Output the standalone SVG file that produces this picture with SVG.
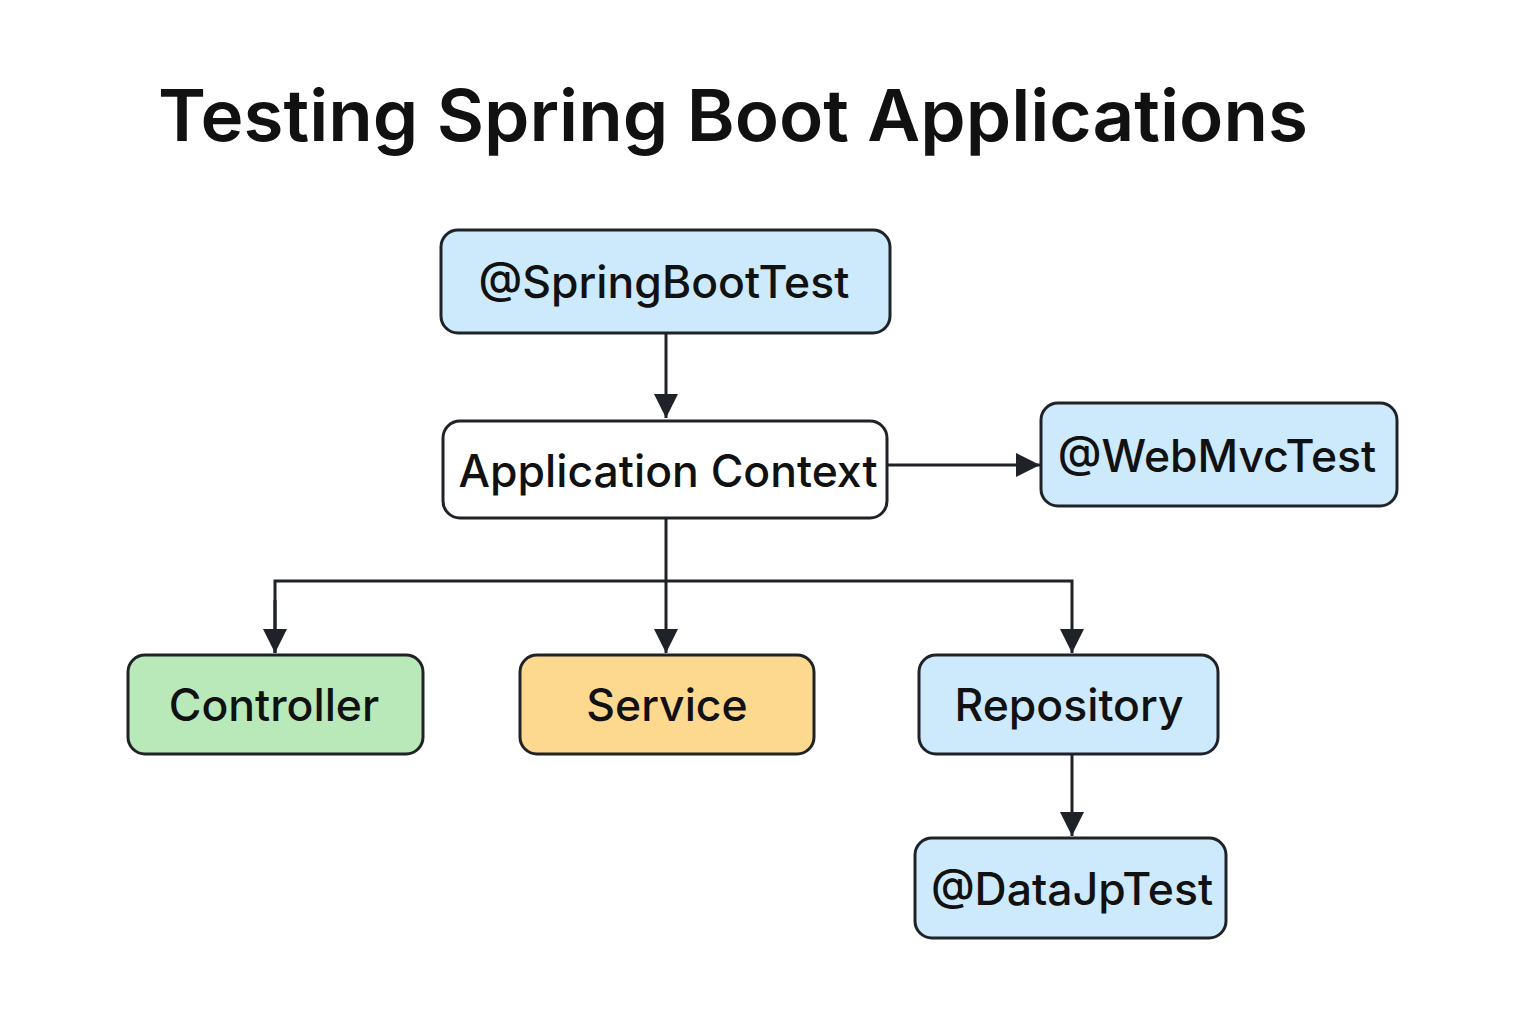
<svg xmlns="http://www.w3.org/2000/svg" width="1536" height="1024" viewBox="0 0 1536 1024">
  <defs>
    <marker id="arrow" viewBox="0 0 24 24" refX="24" refY="12" markerWidth="24" markerHeight="24" markerUnits="userSpaceOnUse" orient="auto">
      <path d="M0,0 L24,12 L0,24 Z" fill="#1f2328"/>
    </marker>
    <style>
      .box { stroke: #1f2328; stroke-width: 3; }
      .blue { fill: #cde9fc; }
      .white { fill: #ffffff; }
      .green { fill: #b9e8b9; }
      .orange { fill: #fdd88f; }
      .lbl { font-family: Inter, "Liberation Sans", sans-serif; font-size: 44.5px; font-weight: 500; fill: #111111; text-anchor: middle; }
      .title { font-family: Inter, "Liberation Sans", sans-serif; font-size: 71px; font-weight: 600; fill: #111111; }
      .conn { fill: none; stroke: #1f2328; stroke-width: 3; }
    </style>
  </defs>
  <rect width="1536" height="1024" fill="#ffffff"/>
  <text class="title" x="158" y="141" textLength="1150" lengthAdjust="spacingAndGlyphs">Testing Spring Boot Applications</text>

  <g id="connectors">
    <path class="conn" d="M666,334 L666,418" marker-end="url(#arrow)"/>
    <path class="conn" d="M888,465 L1040,465" marker-end="url(#arrow)"/>
    <path class="conn" d="M666,519 L666,653" marker-end="url(#arrow)"/>
    <path class="conn" d="M275,653 L275,581 L1072,581 L1072,653" marker-end="url(#arrow)"/>
    <path class="conn" d="M275,600 L275,653" marker-end="url(#arrow)"/>
    <path class="conn" d="M1072,755 L1072,836" marker-end="url(#arrow)"/>
  </g>

  <g id="springboottest">
    <rect class="box blue" x="441" y="230" width="449" height="103" rx="17"/>
    <text class="lbl" x="664" y="298">@SpringBootTest</text>
  </g>
  <g id="appcontext">
    <rect class="box white" x="443" y="421" width="444" height="97" rx="17"/>
    <text class="lbl" x="668" y="487">Application Context</text>
  </g>
  <g id="webmvctest">
    <rect class="box blue" x="1041" y="403" width="356" height="103" rx="17"/>
    <text class="lbl" x="1217" y="472">@WebMvcTest</text>
  </g>
  <g id="controller">
    <rect class="box green" x="128" y="655" width="295" height="99" rx="17"/>
    <text class="lbl" x="274" y="721">Controller</text>
  </g>
  <g id="service">
    <rect class="box orange" x="520" y="655" width="294" height="99" rx="17"/>
    <text class="lbl" x="667" y="721">Service</text>
  </g>
  <g id="repository">
    <rect class="box blue" x="919" y="655" width="299" height="99" rx="17"/>
    <text class="lbl" x="1069" y="721">Repository</text>
  </g>
  <g id="datajptest">
    <rect class="box blue" x="915" y="838" width="311" height="100" rx="17"/>
    <text class="lbl" x="1072" y="905">@DataJpTest</text>
  </g>
</svg>
